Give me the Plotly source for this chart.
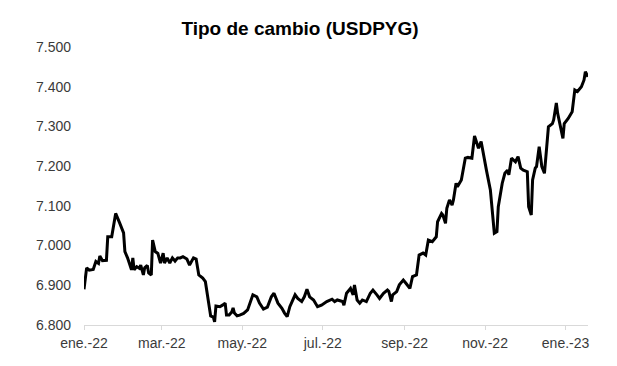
import pandas as pd
import plotly.graph_objects as go

# days elapsed since 2022-01-01 for each observation
day_offset = [
    0, 2, 4, 7, 9, 11, 12, 14, 17, 18,
    21, 24, 27, 30, 31, 33, 36, 37, 38, 40,
    42, 43, 45, 46, 48, 49, 51, 52, 54, 56,
    58, 60, 61, 63, 65, 67, 69, 71, 73, 75,
    78, 80, 83, 85, 87, 90, 92, 96, 98, 99,
    100, 103, 105, 107, 108, 110, 112, 113, 114, 116,
    118, 121, 124, 126, 128, 131, 133, 136, 139, 142,
    144, 147, 150, 152, 154, 156, 160, 162, 165, 167,
    169, 171, 174, 177, 180, 184, 188, 190, 192, 196,
    197, 199, 202, 204, 205, 207, 209, 211, 214, 217,
    219, 222, 224, 227, 230, 231, 233, 234, 237, 239,
    242, 244, 247, 249, 252, 254, 257, 259, 261, 264,
    267, 268, 271, 272, 274, 275, 277, 279, 280, 282,
    283, 286, 289, 291, 294, 296, 298, 299, 301, 302,
    305, 308, 311, 313, 314, 317, 319, 321, 322, 324,
    327, 329, 331, 333, 336, 337, 339, 340, 342, 343,
    345, 347, 349, 352, 355, 356, 358, 359, 363, 364,
    367, 370, 372, 374, 377, 379, 380, 382,
]

usdpyg = [
    6890, 6944, 6938, 6940, 6960, 6955, 6974, 6962, 6963, 7022,
    7022, 7081, 7057, 7032, 6985, 6969, 6939, 6969, 6939, 6947,
    6943, 6951, 6926, 6944, 6950, 6931, 6926, 7014, 6985, 6980,
    6956, 6981, 6956, 6969, 6956, 6969, 6961, 6969, 6969, 6972,
    6966, 6951, 6969, 6966, 6926, 6918, 6909, 6823, 6820, 6808,
    6848, 6846, 6850, 6855, 6825, 6825, 6833, 6843, 6830, 6823,
    6825, 6829, 6838, 6859, 6876, 6871, 6855, 6840, 6845, 6871,
    6880, 6855, 6842, 6830, 6821, 6846, 6876, 6867, 6859, 6871,
    6890, 6871, 6863, 6846, 6850, 6859, 6865, 6859, 6863, 6859,
    6850, 6880, 6892, 6876, 6901, 6863, 6855, 6863, 6859, 6880,
    6888, 6876, 6867, 6880, 6888, 6885, 6859, 6876, 6884, 6901,
    6913, 6905, 6892, 6922, 6926, 6976, 6981, 6976, 7014, 7010,
    7022, 7060, 7081, 7077, 7056, 7094, 7115, 7102, 7115, 7157,
    7148, 7165, 7220, 7222, 7220, 7276, 7253, 7245, 7262, 7242,
    7190, 7140, 7031, 7035, 7098, 7157, 7182, 7190, 7178, 7220,
    7211, 7224, 7195, 7190, 7186, 7098, 7077, 7165, 7195, 7199,
    7249, 7199, 7182, 7299, 7307, 7317, 7359, 7333, 7270, 7307,
    7320, 7337, 7392, 7388, 7400, 7417, 7438, 7425,
]

tick_dates = ["2022-01-01", "2022-03-01", "2022-05-01", "2022-07-01",
              "2022-09-01", "2022-11-01", "2023-01-01"]
tick_labels = ["ene.-22", "mar.-22", "may.-22", "jul.-22",
               "sep.-22", "nov.-22", "ene.-23"]
y_ticks = [6800, 6900, 7000, 7100, 7200, 7300, 7400, 7500]

start = pd.Timestamp("2022-01-01")
dates = start + pd.to_timedelta(day_offset, unit="D")

fig = go.Figure()
fig.add_trace(go.Scatter(
    x=dates, y=usdpyg, mode="lines",
    line=dict(color="black", width=3),
    showlegend=False, hoverinfo="skip",
))

W, H = 609, 358  # page body has an 8px margin
font_family = "Liberation Sans, Arial, sans-serif"
fig.update_layout(
    width=W, height=H,
    margin=dict(l=76, r=29, t=39, b=41),
    paper_bgcolor="white", plot_bgcolor="white",
    separators=",.",
    font=dict(family=font_family, size=14, color="#3a3a3a"),
    title=dict(
        text="<b>Tipo de cambio (USDPYG)</b>",
        font=dict(family=font_family, size=19, color="black"),
        x=292 / W, xref="container", xanchor="center",
        y=1 - 20 / H, yref="container", yanchor="middle",
    ),
)
fig.update_xaxes(
    range=[start, start + pd.Timedelta(days=382)],
    tickvals=tick_dates, ticktext=tick_labels,
    showgrid=False, zeroline=False,
    showline=True, linecolor="#d9d9d9", linewidth=1,
    ticks="outside", tickcolor="#d9d9d9", ticklen=4,
    ticklabelstandoff=1,
)
fig.update_yaxes(
    range=[6800, 7500],
    tickvals=y_ticks, tickformat=",d",
    showgrid=False, zeroline=False, showline=False,
    ticks="", ticklabelstandoff=12,
)

fig.write_html("out.html")
